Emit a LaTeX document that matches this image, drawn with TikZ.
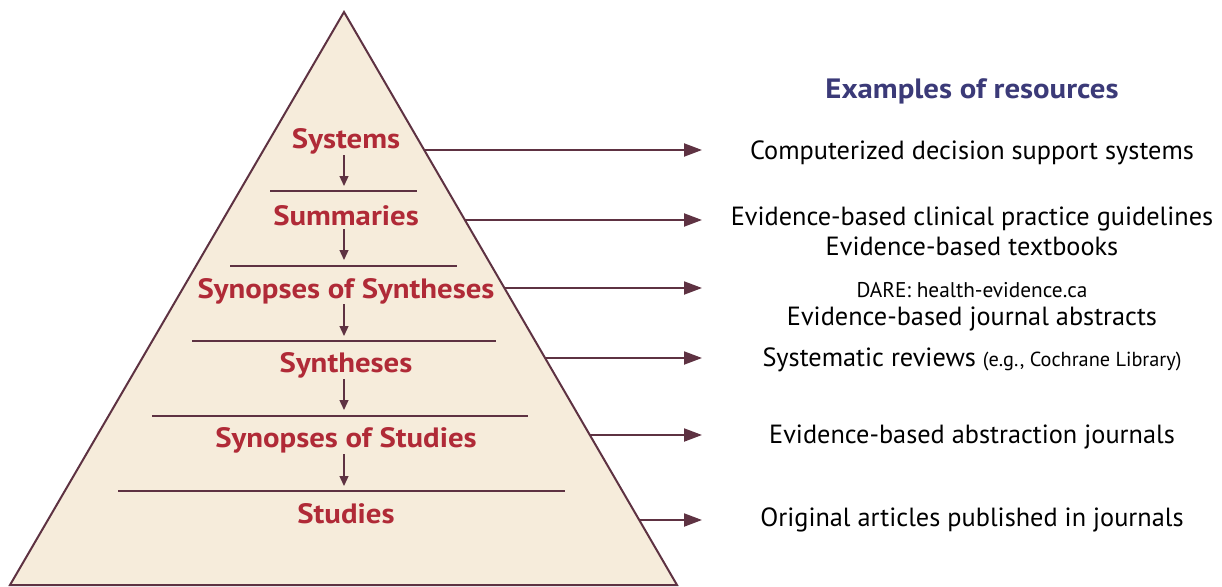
\documentclass[tikz,border=0pt]{standalone}
\usepackage{fontspec}
\setmainfont{PT Sans}
\newfontfamily\widefont[FakeStretch=1.1]{PT Sans}
\usetikzlibrary{arrows.meta}
\definecolor{pyrfill}{HTML}{F6ECDB}
\definecolor{pyrline}{HTML}{5E3242}
\definecolor{lvlred}{HTML}{B02A37}
\definecolor{titleblue}{HTML}{3B3A78}
\tikzset{
  pyr/.style={draw=pyrline, fill=pyrfill, line width=2pt, line join=miter},
  divider/.style={draw=pyrline, line width=2pt},
  lvl/.style={text=lvlred, font=\widefont\bfseries\fontsize{28}{32}\selectfont, inner sep=1pt},
  downarr/.style={draw=pyrline, line width=1.3pt, -{Triangle[length=10pt,width=9pt]}},
  rarr/.style={draw=pyrline, line width=2pt, -{Triangle[length=18pt,width=13pt]}},
  res/.style={font=\fontsize{26.3}{30}\selectfont, inner sep=0pt},
  ressmall/.style={font=\fontsize{21.3}{24}\selectfont, inner sep=0pt},
}
\begin{document}
\begin{tikzpicture}[x=1pt,y=-1pt]
\useasboundingbox (0,0) rectangle (1222,586);
\coordinate (apex) at (344,12);
\coordinate (bl) at (10,585);
\coordinate (br) at (677,585);
\draw[pyr] (apex) -- (br) -- (bl) -- cycle;
% dividers
\draw[divider] (270,190.5) -- (417,190.5);
\draw[divider] (230,265.5) -- (457,265.5);
\draw[divider] (192,341) -- (496,341);
\draw[divider] (152,415.5) -- (528,415.5);
\draw[divider] (118,491) -- (565,491);
\coordinate (d1) at (344,186);
\coordinate (d2) at (344,260);
\coordinate (d3) at (344,336);
\coordinate (d4) at (344,410);
\coordinate (d5) at (344,486);
% levels
\node[lvl] (sys) at (346,141) {Systems};
\node[lvl] (sum) at (346,216) {Summaries};
\node[lvl] (sos) at (346,291) {Synopses of Syntheses};
\node[lvl] (syn) at (346,365) {Syntheses};
\node[lvl] (sost) at (346,440) {Synopses of Studies};
\node[lvl] (stu) at (346,514) {Studies};
\coordinate (u1) at (344,155);
\coordinate (u2) at (344,229);
\coordinate (u3) at (344,304);
\coordinate (u4) at (344,379);
\coordinate (u5) at (344,454);
\draw[downarr] (u1) -- (d1);
\draw[downarr] (u2) -- (d2);
\draw[downarr] (u3) -- (d3);
\draw[downarr] (u4) -- (d4);
\draw[downarr] (u5) -- (d5);
% right arrows
\coordinate (e1) at (424.2,150);
\coordinate (e2) at (464.9,220);
\coordinate (e3) at (504.4,288);
\coordinate (e4) at (545.1,358);
\coordinate (e5) at (589.8,435);
\coordinate (e6) at (639.3,520);
\coordinate (t1) at (702,150);
\coordinate (t2) at (702,220);
\coordinate (t3) at (702,288);
\coordinate (t4) at (702,358);
\coordinate (t5) at (702,435);
\coordinate (t6) at (702,520);
\draw[rarr] (e1) -- (t1);
\draw[rarr] (e2) -- (t2);
\draw[rarr] (e3) -- (t3);
\draw[rarr] (e4) -- (t4);
\draw[rarr] (e5) -- (t5);
\draw[rarr] (e6) -- (t6);
% resources
\node[text=titleblue, font=\widefont\bfseries\fontsize{28}{32}\selectfont, inner sep=0pt] (title) at (972,91) {Examples of resources};
\node[res] (r1) at (972,153) {Computerized decision support systems};
\node[res] (r2a) at (972,219) {Evidence-based clinical practice guidelines};
\node[res] (r2b) at (972,246) {Evidence-based textbooks};
\node[ressmall] (r3a) at (972,290) {DARE: health-evidence.ca};
\node[res] (r3b) at (972,319) {Evidence-based journal abstracts};
\node[res] (r4) at (972,360) {Systematic reviews {\fontsize{20.3}{23}\selectfont(e.g., Cochrane Library)}};
\node[res] (r5) at (972,437) {Evidence-based abstraction journals};
\node[res] (r6) at (972,520) {Original articles published in journals};
\end{tikzpicture}
\end{document}
